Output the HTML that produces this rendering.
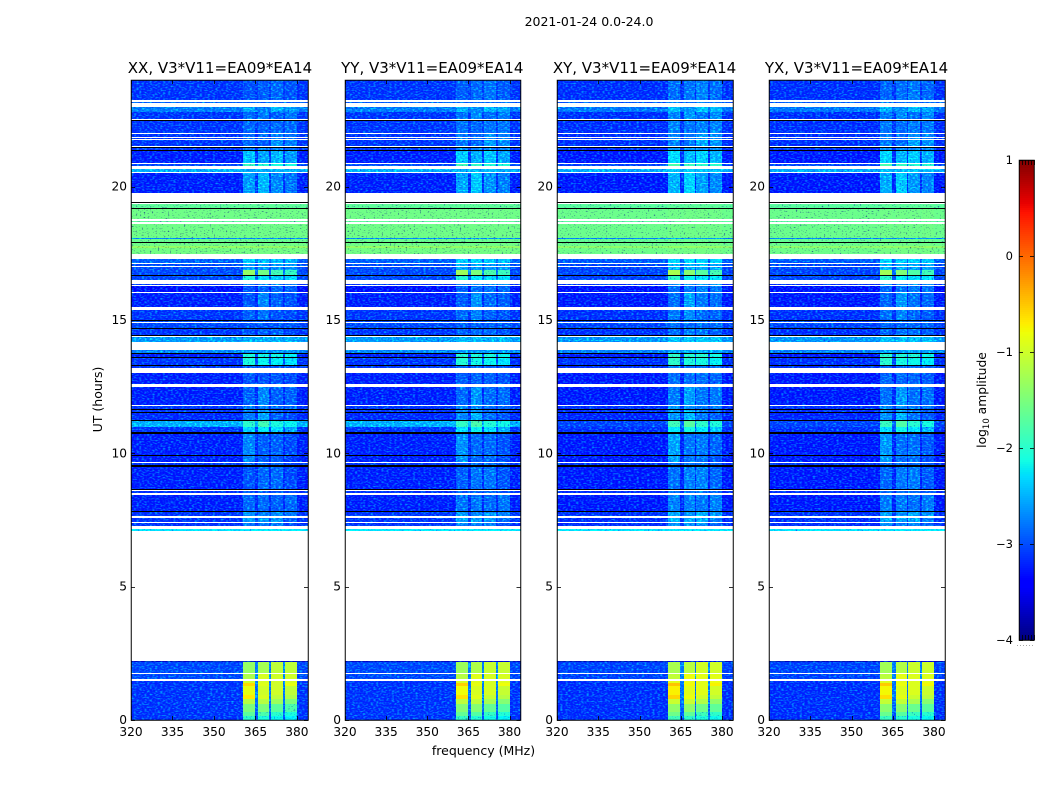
<!DOCTYPE html>
<html>
<head>
<meta charset="utf-8">
<title>2021-01-24 0.0-24.0</title>
<style>
html,body{margin:0;padding:0;background:#fff;}
svg{display:block;}
text{font-family:"DejaVu Sans","Liberation Sans",sans-serif;fill:#000;}
</style>
</head>
<body>
<svg id="chart" xmlns="http://www.w3.org/2000/svg" width="1050" height="800" viewBox="0 0 1050 800">
<defs id="defs"></defs>
<text x="589" y="26" font-size="12.5" text-anchor="middle">2021-01-24 0.0-24.0</text>
<text x="483.5" y="755" font-size="12.5" text-anchor="middle">frequency (MHz)</text>
<text x="0" y="0" transform="translate(102,399.5) rotate(-90)" font-size="12.5" text-anchor="middle">UT (hours)</text>
<text x="0" y="0" transform="translate(986,400) rotate(-90)" font-size="12.3" text-anchor="middle">log<tspan font-size="8.5" dy="3">10</tspan><tspan dy="-3"> amplitude</tspan></text>
</svg>
<script>
// ---- chart data ----
const products = ['XX, V3*V11=EA09*EA14','YY, V3*V11=EA09*EA14','XY, V3*V11=EA09*EA14','YX, V3*V11=EA09*EA14'];
const freqTicks = [320,335,350,365,380];
const utTicks = [0,5,10,15,20];
const colorbarTicks = [1,0,-1,-2,-3,-4];
// spectral columns (MHz) and which baseband window each belongs to
const freqEdges = [320,360.5,364.8,366,370,370.6,375,375.7,380,384];
const columnWindow = [-1,0,-1,1,-1,2,-1,3,-1];
const columnMix = [0,1,0.15,1,0.15,1,0.15,1,0];
// per-correlation shifts of the window brightness
const productWindowShift = [0,0.05,0.12,0.08];
const productBackgroundShift = [0,0,-0.03,-0.03];
// bands where the cross-hand background is not raised (UT hours)
const xyDarkStart = [11.0];
const xyDarkEnd = [11.2];
const yxDarkStart = [11.0];
const yxDarkEnd = [11.2];
// time rows: UT start, UT end, background level, four window levels (log10 amp). Level -9 is flagged black.
const rowStart = [0,.15,.30,.60,.79,.94,1.275,1.39,1.55,1.76,2.19,7.10,7.275,7.425,7.65,7.80,7.82,8.52,8.625,8.65,9.50,9.55,9.675,9.91,9.94,10.74,10.79,11.0,11.20,11.24,11.51,11.54,11.625,11.66,11.75,11.81,12.59,13.21,13.275,13.30,13.575,13.60,13.71,13.75,14.19,14.40,14.44,14.66,14.70,14.91,14.96,15.0,15.475,16.05,16.31,16.5,16.65,16.69,16.875,17.04,17.125,17.475,17.70,17.775,17.89,17.91,18.04,18.09,18.675,18.775,19.175,19.21,19.40,19.75,20.535,20.775,20.90,21.34,21.375,21.45,21.54,21.79,21.875,22.0,22.48,22.525,22.80,23.14,23.25];
const rowEnd = [.15,.30,.60,.79,.94,1.275,1.39,1.47,1.71,2.19,2.22,7.17,7.39,7.59,7.80,7.82,8.44,8.59,8.65,9.50,9.55,9.64,9.91,9.94,10.74,10.79,11.0,11.20,11.24,11.51,11.54,11.625,11.66,11.725,11.79,12.50,13.0,13.275,13.30,13.575,13.60,13.71,13.75,13.875,14.375,14.44,14.66,14.70,14.875,14.96,15.0,15.375,16.01,16.275,16.35,16.65,16.69,16.875,17.0,17.085,17.29,17.70,17.775,17.89,17.91,18.04,18.09,18.60,18.725,19.175,19.21,19.35,19.44,20.50,20.65,20.86,21.34,21.375,21.45,21.49,21.75,21.84,21.96,22.48,22.50,22.80,22.99,23.16,24];
const rowBackground = [-3.2,-3.2,-3.2,-3.2,-3.2,-3.2,-3.2,-3.2,-3.1,-3.1,-3.7,-2.3,
 -3.2,-3.2,-3.2,-9,-3.3,-3.2,-9,-3.3,-9,-3.2,-3.3,-9,-3.3,-9,-3.2,-2.6,-9,-3.25,-9,-3.2,-9,-3.2,-3.2,-3.3,-3.3,-3.2,-9,-3.2,-9,-3.3,-9,-2.8,-2.7,-9,-3.2,-9,-3.1,-3.1,-9,-3.2,-3.3,-3.4,-3.2,-3.1,-9,-3.1,-3.1,-3.1,-3.0,
 -1.55,-1.35,-1.57,-9,-1.62,-2.8,-1.57,-1.68,-1.57,-9,-1.68,-9,
 -3.3,-2.6,-3.1,-3.3,-9,-3.2,-9,-3.2,-3.2,-3.2,-3.2,-9,-3.2,-2.85,-3,-3.2];
const rowWindowA = [-2,-1.7,-1.5,-1.15,-.7,-.85,-.6,-1,-1.2,-1.35,-3.7,-2.3,
 -2.85,-2.7,-2.75,-9,-2.95,-3.05,-9,-3.05,-9,-3.05,-2.8,-9,-2.8,-9,-2.4,-2,-9,-2.85,-9,-2.85,-9,-2.85,-2.85,-3,-3.05,-3,-9,-2.1,-9,-2.1,-9,-2.75,-2.6,-9,-3.05,-9,-3.05,-3.05,-9,-3,-3.05,-3.05,-2.85,-2.1,-9,-1.35,-2.7,-2.7,-2.5,
 -1.55,-1.35,-1.57,-9,-1.62,-2.8,-1.57,-1.68,-1.57,-9,-1.68,-9,
 -2.7,-2.6,-1.9,-2.5,-9,-2.85,-9,-2.95,-2.95,-2.95,-2.95,-9,-2.95,-2.65,-3,-3.05];
const rowWindowB = [-2.1,-1.8,-1.5,-1.15,-.95,-1,-.9,-.95,-.95,-1.25,-3.7,-2.3,
 -2.9,-2.75,-2.85,-9,-2.95,-3,-9,-2.95,-9,-3,-3,-9,-3,-9,-2.25,-1.85,-9,-2.65,-9,-2.75,-9,-2.85,-2.85,-2.8,-3.05,-3,-9,-2.2,-9,-2.15,-9,-2.75,-2.6,-9,-3,-9,-3.05,-3.05,-9,-2.9,-2.8,-3,-2.85,-2.35,-9,-1.55,-2.75,-2.7,-2.5,
 -1.55,-1.35,-1.57,-9,-1.62,-2.8,-1.57,-1.68,-1.57,-9,-1.68,-9,
 -2.55,-2.6,-2,-2.65,-9,-2.85,-9,-3,-3,-3,-3,-9,-2.85,-2.85,-3,-3];
const rowWindowC = [-2.2,-2,-1.7,-1.3,-1.1,-1,-1,-1,-1,-1.1,-3.7,-2.3,
 -2.9,-2.75,-2.75,-9,-3,-3,-9,-2.95,-9,-3,-3,-9,-3,-9,-2.4,-2.1,-9,-3,-9,-3,-9,-2.95,-2.95,-3,-3.05,-3,-9,-2.25,-9,-2.15,-9,-2.75,-2.6,-9,-3,-9,-3.05,-3.05,-9,-3.05,-3,-2.95,-2.85,-2.45,-9,-1.85,-2.75,-2.75,-2.55,
 -1.55,-1.35,-1.57,-9,-1.62,-2.8,-1.57,-1.68,-1.57,-9,-1.68,-9,
 -2.8,-2.6,-2.1,-2.55,-9,-2.85,-9,-2.75,-2.85,-2.85,-2.95,-9,-3,-2.6,-3,-2.95];
const rowWindowD = [-2.3,-2.1,-1.8,-1.5,-1.2,-1.1,-.85,-.95,-1,-1.1,-3.7,-2.3,
 -3.1,-3,-2.85,-9,-2.95,-3.1,-9,-3.1,-9,-3.1,-3.15,-9,-3.1,-9,-2.65,-2.2,-9,-3.1,-9,-3.1,-9,-3,-3,-3,-3.1,-3.05,-9,-2.35,-9,-2.25,-9,-2.75,-2.6,-9,-3.1,-9,-3.05,-3.05,-9,-3.1,-3.05,-3,-2.85,-2.4,-9,-1.95,-2.75,-2.75,-2.55,
 -1.55,-1.35,-1.57,-9,-1.62,-2.8,-1.57,-1.68,-1.57,-9,-1.68,-9,
 -2.9,-2.65,-2.1,-2.7,-9,-2.9,-9,-2.85,-2.9,-2.9,-2.95,-9,-2.9,-2.7,-3,-3.05];

// ---- layout ----
const NS = 'http://www.w3.org/2000/svg';
const svg = document.getElementById('chart');
const defs = document.getElementById('defs');
const panelLeft = [131,345,557,769];
const panelRight = [308,520.5,733,945];
const plotTop = 80, plotBottom = 720;
const FREQ_MIN = 320, FREQ_MAX = 384, UT_MIN = 0, UT_MAX = 24;
const LEVEL_MIN = -4, LEVEL_MAX = 1;
const cbLeft = 1019, cbRight = 1034, cbTop = 160, cbBottom = 640;

function xScale(p, f){ return panelLeft[p] + (f - FREQ_MIN) / (FREQ_MAX - FREQ_MIN) * (panelRight[p] - panelLeft[p]); }
function yScale(h){ return plotBottom - (h - UT_MIN) / (UT_MAX - UT_MIN) * (plotBottom - plotTop); }
function cbScale(v){ return cbBottom - (v - LEVEL_MIN) / (LEVEL_MAX - LEVEL_MIN) * (cbBottom - cbTop); }
function lerpStops(t, xs, ys){
  if (t <= xs[0]) return ys[0];
  for (let i = 1; i < xs.length; i++) {
    if (t <= xs[i]) return ys[i-1] + (ys[i]-ys[i-1]) * (t-xs[i-1]) / (xs[i]-xs[i-1]);
  }
  return ys[ys.length-1];
}
function jet(v){
  if (v < -8) return '#000';
  const t = Math.max(0, Math.min(1, (v - LEVEL_MIN) / (LEVEL_MAX - LEVEL_MIN)));
  const r = lerpStops(t,[0,.35,.66,.89,1],[0,0,1,1,.5]);
  const g = lerpStops(t,[0,.125,.375,.64,.91,1],[0,0,1,1,0,0]);
  const b = lerpStops(t,[0,.11,.34,.65,1],[.5,1,1,0,0]);
  return 'rgb(' + Math.round(r*255) + ',' + Math.round(g*255) + ',' + Math.round(b*255) + ')';
}
function make(tag, attrs, parent){
  const el = document.createElementNS(NS, tag);
  for (const k in attrs) el.setAttribute(k, attrs[k]);
  (parent || svg).appendChild(el);
  return el;
}
function inRanges(h, starts, ends){
  for (let i = 0; i < starts.length; i++) if (h >= starts[i] && h <= ends[i]) return true;
  return false;
}
function rowWindowLevel(r, w){
  return [rowWindowA, rowWindowB, rowWindowC, rowWindowD][w][r];
}

function speckleFilter(p){
  const f = make('filter', {id:'speckle'+p, x:'0', y:'0', width:'1', height:'1', 'color-interpolation-filters':'sRGB'}, defs);
  make('feTurbulence', {type:'fractalNoise', baseFrequency:'0.38 0.72', numOctaves:'1', seed:String(3+p*7), result:'n'}, f);
  make('feColorMatrix', {in:'n', type:'matrix', values:'0 0 0 0 0  1.5 0 0 0 -0.68  0 0 0 0 0  0 0 0 0 1', result:'g'}, f);
  make('feComposite', {in:'SourceGraphic', in2:'g', operator:'arithmetic', k1:'0', k2:'1', k3:'1', k4:'0', result:'sum'}, f);
  make('feTurbulence', {type:'fractalNoise', baseFrequency:'0.5 0.8', numOctaves:'1', seed:String(11+p*5), result:'n2'}, f);
  make('feColorMatrix', {in:'n2', type:'matrix', values:'-3 0 0 0 2.8  -3 0 0 0 2.8  0 0 0 0 1  0 0 0 0 1', result:'mask'}, f);
  make('feBlend', {in:'sum', in2:'mask', mode:'multiply', result:'mixed'}, f);
  make('feComposite', {in:'mixed', in2:'SourceAlpha', operator:'in'}, f);
}

function drawPanel(p){
  speckleFilter(p);
  const L = panelLeft[p], R = panelRight[p];
  const tag = products[p].slice(0,2).toLowerCase();
  const cells = make('g', {filter:'url(#speckle'+p+')', 'shape-rendering':'crispEdges'});
  
  
  const bright = make('g', {'shape-rendering':'crispEdges'});
  
  
  const flagged = make('g', {'shape-rendering':'crispEdges'});
  
  
  const darkS = p === 2 ? xyDarkStart : (p === 3 ? yxDarkStart : []);
  const darkE = p === 2 ? xyDarkEnd : (p === 3 ? yxDarkEnd : []);
  for (let r = 0; r < rowStart.length; r++) {
    const y0 = Math.round(yScale(rowEnd[r]));
    const h = Math.max(1, Math.round(yScale(rowStart[r])) - y0);
    if (rowBackground[r] < -8) {
      const el = make('rect', {x:L, y:y0, width:R-L, height:h, fill:'#000'}, flagged);
      
      
      continue;
    }
    const mid = (rowStart[r] + rowEnd[r]) / 2;
    const dim = inRanges(mid, darkS, darkE) ? -0.5 : 0;
    const bg = rowBackground[r] + productBackgroundShift[p] + dim;
    const dimRow = rowBackground[r] < -2.4;
    let winMean = 0;
    for (let w = 0; w < 4; w++) winMean += rowWindowLevel(r, w) / 4;
    for (let c = 0; c < columnWindow.length; c++) {
      const w = columnWindow[c];
      let level = bg;
      if (w >= 0) level = rowWindowLevel(r, w) + (dimRow ? productWindowShift[p] : 0);
      else if (columnMix[c] > 0) level = bg + (winMean - bg) * columnMix[c];
      const x0 = Math.round(xScale(p, freqEdges[c]));
      const x1 = Math.round(xScale(p, freqEdges[c+1]));
      const smooth = w >= 0 && dimRow && level > -1.8;
      const el = make('rect', {x:x0, y:y0, width:x1-x0, height:h, fill:jet(level)}, smooth ? bright : cells);
      
      
    }
  }
  // frame
  const frame = make('rect', {x:L+0.25, y:plotTop+0.25, width:R-L, height:plotBottom-plotTop, fill:'none', stroke:'#000', 'stroke-width':1});
  
  
  // title
  const title = make('text', {x:(L+R)/2 + (p === 0 ? 0.5 : -0.5), y:73, 'font-size':15, 'text-anchor':'middle'});
  title.textContent = products[p];
  
  
  // x ticks
  freqTicks.forEach(function(f){
    const x = Math.round(xScale(p, f)) + 0.5;
    const t1 = make('line', {x1:x, x2:x, y1:plotBottom, y2:plotBottom-4, stroke:'#000', 'stroke-width':0.8});
    
    
    const t2 = make('line', {x1:x, x2:x, y1:plotTop, y2:plotTop+4, stroke:'#000', 'stroke-width':0.8});
    
    
    const lbl = make('text', {x:xScale(p, f), y:736, 'font-size':12.2, 'text-anchor':'middle'});
    lbl.textContent = f;
    
    
  });
  // y ticks
  utTicks.forEach(function(h){
    const y = Math.round(yScale(h)) + 0.5;
    const t1 = make('line', {x1:L, x2:L+4, y1:y, y2:y, stroke:'#000', 'stroke-width':0.8});
    
    
    const t2 = make('line', {x1:R, x2:R-4, y1:y, y2:y, stroke:'#000', 'stroke-width':0.8});
    
    
    const lbl = make('text', {x:L-4, y:yScale(h)+4, 'font-size':12.2, 'text-anchor':'end'});
    lbl.textContent = h;
    
    
  });
}
products.forEach(function(_, p){ drawPanel(p); });

// ---- colorbar ----
const cb = make('g', {'shape-rendering':'crispEdges'});


for (let y = cbTop; y < cbBottom; y += 2) {
  const level = LEVEL_MAX - (y + 1 - cbTop) / (cbBottom - cbTop) * (LEVEL_MAX - LEVEL_MIN);
  const s = make('rect', {x:cbLeft, y:y, width:cbRight-cbLeft, height:2, fill:jet(level)}, cb);
  
  
}
const cbFrame = make('rect', {x:cbLeft+0.25, y:cbTop+0.25, width:cbRight-cbLeft, height:cbBottom-cbTop, fill:'none', stroke:'#000', 'stroke-width':1});


colorbarTicks.forEach(function(v){
  const y = Math.round(cbScale(v)) + 0.5;
  const a = make('line', {x1:cbLeft, x2:cbLeft+4, y1:y, y2:y, stroke:'#000', 'stroke-width':0.8});
  
  
  const b = make('line', {x1:cbRight, x2:cbRight-4, y1:y, y2:y, stroke:'#000', 'stroke-width':0.8});
  
  
  const lbl = make('text', {x:cbLeft-6, y:cbScale(v)+4, 'font-size':11.5, 'text-anchor':'end'});
  lbl.textContent = v < 0 ? '\u2212' + Math.abs(v) : v;
  
  
});
for (let i = 0; i <= 5; i++) {
  const x = Math.round(cbLeft + (cbRight - cbLeft) * i / 5) + 0.5;
  const m1 = make('line', {x1:x, x2:x, y1:cbTop, y2:cbTop+5, stroke:'#000', 'stroke-width':0.8});
  
  
  const m2 = make('line', {x1:x, x2:x, y1:cbBottom, y2:cbBottom-5, stroke:'#000', 'stroke-width':0.8});
  
  
  const d = make('rect', {x:x-2.5, y:645, width:1, height:1, fill:'#aaa'});
  
  
}
</script>
</body>
</html>
